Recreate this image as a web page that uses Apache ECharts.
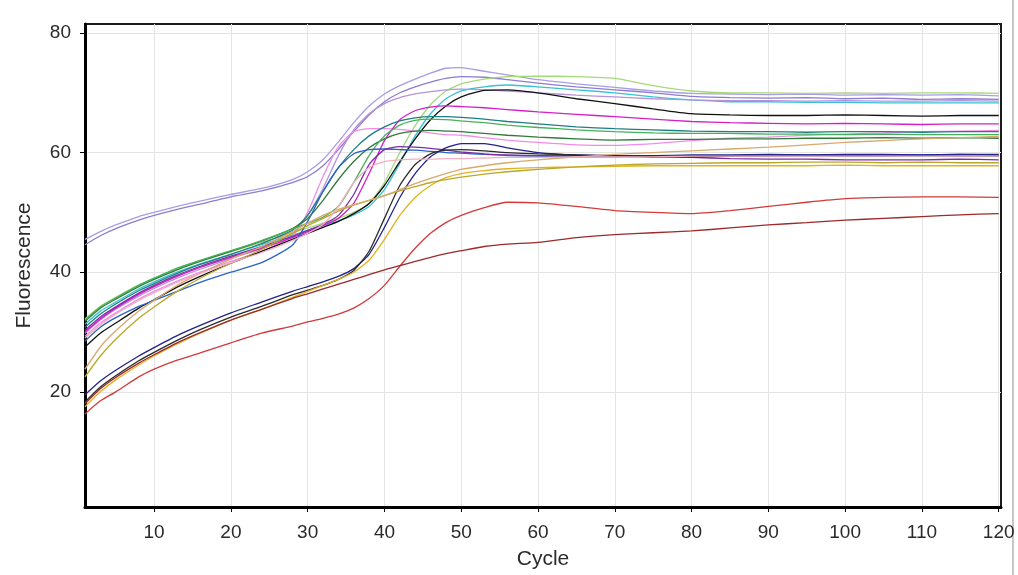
<!DOCTYPE html>
<html>
<head>
<meta charset="utf-8">
<script src="https://cdn.jsdelivr.net/npm/echarts@6/dist/echarts.min.js"></script>
<style>html,body{margin:0;padding:0;background:#fff}#c{width:1018px;height:575px}</style>
</head>
<body>
<div id="c"></div>
<script>
// Cycle numbers at which each curve was read
var cycles = [1,3,5,8,10,13,16,20,24,28,30,32,34,36,38,40,42,44,46,48,50,53,56,60,65,70,75,80,85,90,95,100,105,110,115,120];

var xTicks = [10,20,30,40,50,60,70,80,90,100,110,120];
var yTicks = [20,40,60,80];

var lavender1 = [45.5,46.8,47.9,49.3,50.0,51.0,51.9,53.0,54.0,55.5,56.8,58.8,61.8,65.0,67.8,69.8,71.2,72.3,73.3,74.1,74.2,73.6,73.0,72.2,71.5,70.9,70.3,69.9,69.8,69.7,69.8,69.6,69.7,69.6,69.7,69.5];
var lavender2 = [44.6,46.1,47.3,48.7,49.5,50.5,51.4,52.6,53.6,55.0,56.0,57.8,60.5,63.5,66.3,68.5,70.0,71.0,71.8,72.4,72.7,72.6,72.2,71.6,71.0,70.5,70.0,69.4,69.2,69.1,69.2,69.0,69.1,68.9,69.0,68.9];
var lightGreen = [32.2,34.3,35.8,37.9,39.0,40.6,41.9,43.4,45.0,46.6,47.4,48.2,49.0,50.0,51.5,55.0,60.0,64.5,68.0,70.3,71.5,72.3,72.7,72.8,72.7,72.4,71.2,70.3,70.0,70.0,69.9,70.0,69.9,70.0,70.0,69.9];
var cyan = [31.3,33.5,35.0,37.2,38.4,40.0,41.4,43.0,44.6,46.2,47.0,47.8,48.6,49.6,51.0,53.8,58.2,62.8,66.5,69.0,70.3,71.0,71.3,71.0,70.5,70.0,69.3,68.8,68.5,68.5,68.4,68.4,68.3,68.3,68.3,68.3];
var violet = [29.8,32.0,33.8,36.0,37.3,39.0,40.5,42.3,44.0,46.5,49.5,54.0,59.5,63.8,66.5,68.2,69.2,69.8,70.2,70.5,70.6,70.5,70.3,70.0,69.6,69.3,69.0,68.8,68.7,68.7,68.6,68.7,68.6,68.6,68.7,68.6];
var pink = [29.3,31.5,33.2,35.5,36.8,38.5,40.0,41.8,43.5,46.0,50.0,56.0,61.0,63.5,64.0,64.0,63.9,63.6,63.3,63.0,62.9,62.5,62.1,61.7,61.3,61.2,61.5,62.0,62.4,62.6,62.9,63.1,63.3,63.5,63.6,63.7];
var black1 = [27.5,29.8,31.5,34.0,35.4,37.5,39.3,41.5,43.5,45.5,46.5,47.5,48.5,49.8,51.5,54.5,58.5,62.3,65.5,67.8,69.3,70.4,70.5,70.0,69.0,68.2,67.3,66.5,66.3,66.2,66.2,66.3,66.2,66.1,66.2,66.2];
var magenta = [30.0,32.2,34.0,36.3,37.6,39.3,40.8,42.5,44.0,45.8,46.8,47.8,49.0,51.5,56.5,62.0,65.5,67.0,67.6,67.8,67.7,67.5,67.2,66.8,66.4,66.0,65.6,65.2,65.0,64.9,64.8,64.9,64.8,64.7,64.8,64.8];
var darkTeal = [30.8,33.0,34.7,36.9,38.1,39.8,41.3,43.0,44.8,47.0,49.5,53.5,57.5,60.5,62.8,64.3,65.3,65.8,66.0,66.0,65.9,65.6,65.2,64.8,64.3,64.0,63.8,63.6,63.5,63.5,63.4,63.5,63.5,63.4,63.5,63.5];
var darkGreen = [31.8,34.0,35.5,37.6,38.8,40.4,41.8,43.5,45.2,47.3,49.0,52.0,55.5,58.5,60.8,62.3,63.2,63.6,63.7,63.6,63.5,63.2,62.9,62.6,62.3,62.1,62.2,62.2,62.3,62.3,62.4,62.4,62.5,62.4,62.5,62.4];
var green = [32.0,34.2,35.7,37.8,39.0,40.7,42.0,43.6,45.3,47.2,48.2,49.2,51.0,55.0,59.5,62.8,64.6,65.4,65.6,65.5,65.3,65.0,64.6,64.2,63.8,63.5,63.3,63.2,63.2,63.1,63.1,63.0,63.1,63.0,63.0,63.0];
var blue = [28.5,30.8,32.4,34.3,35.3,36.8,38.3,40.0,41.6,44.5,48.5,53.5,57.5,59.8,60.5,60.6,60.5,60.4,60.2,60.0,59.9,59.7,59.5,59.4,59.3,59.3,59.4,59.5,59.5,59.6,59.6,59.5,59.6,59.6,59.7,59.6];
var purple = [30.3,32.5,34.2,36.5,37.8,39.5,41.0,42.7,44.3,46.0,47.0,48.0,49.5,53.0,58.0,60.5,61.0,60.9,60.7,60.4,60.1,59.8,59.6,59.5,59.5,59.4,59.3,59.2,59.0,58.9,58.9,58.8,58.8,58.8,58.9,58.8];
var navy = [19.5,21.8,23.6,26.0,27.4,29.4,31.1,33.2,35.0,36.8,37.6,38.4,39.3,40.6,43.0,47.5,52.5,56.5,59.3,60.8,61.5,61.5,60.8,60.0,59.6,59.5,59.5,59.6,59.6,59.7,59.6,59.7,59.7,59.6,59.7,59.7];
var black2 = [18.3,20.8,22.7,25.2,26.6,28.6,30.4,32.5,34.3,36.2,37.0,37.8,38.8,40.3,43.5,49.0,54.5,58.0,59.8,60.4,60.5,60.3,60.0,59.8,59.6,59.5,59.3,59.3,59.4,59.4,59.5,59.4,59.4,59.5,59.4,59.4];
var yellow = [17.5,20.0,22.0,24.5,26.0,28.0,29.8,32.0,33.8,35.8,36.8,37.8,38.8,40.0,42.0,45.5,49.5,52.5,54.5,55.8,56.5,57.0,57.3,57.5,57.6,57.7,57.8,57.8,57.8,57.8,57.8,57.9,57.8,57.8,57.8,57.8];
var olive = [22.5,26.0,28.8,32.3,34.2,36.8,39.0,41.5,43.8,46.5,47.8,49.0,50.2,51.2,52.0,52.8,53.6,54.3,55.0,55.5,55.9,56.4,56.8,57.2,57.6,57.9,58.1,58.2,58.3,58.3,58.4,58.4,58.3,58.4,58.3,58.3];
var tan = [23.8,27.5,30.2,33.5,35.3,37.8,39.8,42.2,44.3,46.8,48.2,49.5,50.5,51.3,52.0,52.8,53.8,54.8,55.7,56.5,57.2,57.8,58.3,58.8,59.3,59.7,60.0,60.3,60.6,60.9,61.3,61.7,62.0,62.3,62.5,62.7];
var lightPink = [29.0,31.2,33.0,35.3,36.6,38.3,39.8,41.6,43.3,45.3,46.5,48.0,51.0,55.0,57.5,58.5,58.8,58.9,58.9,59.0,59.0,59.1,59.2,59.2,59.3,59.3,59.3,59.4,59.4,59.4,59.4,59.4,59.4,59.4,59.4,59.4];
var red = [16.3,18.5,20.0,22.5,23.8,25.3,26.5,28.2,29.8,31.0,31.7,32.3,33.0,34.0,35.6,37.8,41.0,44.0,46.5,48.3,49.5,50.8,51.7,51.6,51.0,50.3,50.0,49.8,50.3,51.0,51.7,52.3,52.5,52.6,52.6,52.5];
var darkRed = [18.0,20.5,22.4,24.8,26.2,28.2,29.9,32.0,33.8,35.6,36.4,37.2,38.0,38.8,39.6,40.4,41.1,41.8,42.5,43.1,43.6,44.3,44.7,45.0,45.8,46.3,46.6,46.9,47.4,47.9,48.3,48.7,49.0,49.3,49.6,49.8];

var curves = [
  ['lavender1', lavender1, '#a99de3'],
  ['lavender2', lavender2, '#8d7ccf'],
  ['lightGreen', lightGreen, '#a6d97a'],
  ['cyan', cyan, '#35c3d3'],
  ['violet', violet, '#b592dc'],
  ['pink', pink, '#f08ce8'],
  ['black1', black1, '#111111'],
  ['magenta', magenta, '#d21fc8'],
  ['darkTeal', darkTeal, '#1d7f80'],
  ['darkGreen', darkGreen, '#2f7a3a'],
  ['green', green, '#45b05a'],
  ['blue', blue, '#2a62c8'],
  ['purple', purple, '#7b2fa5'],
  ['navy', navy, '#22228c'],
  ['black2', black2, '#2a2a2a'],
  ['yellow', yellow, '#e2b21e'],
  ['olive', olive, '#b9a72c'],
  ['tan', tan, '#d9a86c'],
  ['lightPink', lightPink, '#f2aec2'],
  ['red', red, '#d23a3a'],
  ['darkRed', darkRed, '#9c2a2a']
];

var font = "'Liberation Sans', Arial, sans-serif";
var chart = echarts.init(document.getElementById('c'), null, {renderer: 'canvas'});
chart.setOption({
  animation: false,
  backgroundColor: '#ffffff',
  grid: {left: 85, right: 17, top: 24, bottom: 67, show: true, borderColor: '#1a1a1a', borderWidth: 2, containLabel: false},
  xAxis: {
    type: 'value', min: 1, max: 120.3,
    name: 'Cycle', nameLocation: 'middle', nameGap: 42,
    nameTextStyle: {fontFamily: font, fontSize: 21, color: '#2a2a2a'},
    axisLine: {show: true, lineStyle: {color: '#000', width: 3}},
    axisTick: {show: true, length: 5, customValues: xTicks, lineStyle: {color: '#000', width: 1}},
    axisLabel: {customValues: xTicks, margin: 16, fontFamily: font, fontSize: 19, color: '#2a2a2a'},
    splitLine: {show: true, lineStyle: {color: '#e4e4e4', width: 1}}
  },
  yAxis: {
    type: 'value', min: 0.75, max: 81.5,
    name: 'Fluorescence', nameLocation: 'middle', nameGap: 50,
    nameTextStyle: {fontFamily: font, fontSize: 21, color: '#2a2a2a'},
    axisLine: {show: true, lineStyle: {color: '#000', width: 3}},
    axisTick: {show: true, length: 5, customValues: yTicks, lineStyle: {color: '#000', width: 1}},
    axisLabel: {customValues: yTicks, margin: 14, fontFamily: font, fontSize: 19, color: '#2a2a2a'},
    splitLine: {show: true, lineStyle: {color: '#e4e4e4', width: 1}}
  },
  graphic: [{type: 'rect', shape: {x: 1012, y: 0, width: 2, height: 575}, style: {fill: '#c8c8c8'}, silent: true}],
  series: curves.map(function (c) {
    return {
      name: c[0], type: 'line', symbol: 'none', smooth: 0.2,
      lineStyle: {width: 1.3, color: c[2]},
      data: cycles.map(function (x, i) { return [x, c[1][i]]; })
    };
  })
});
</script>
</body>
</html>
